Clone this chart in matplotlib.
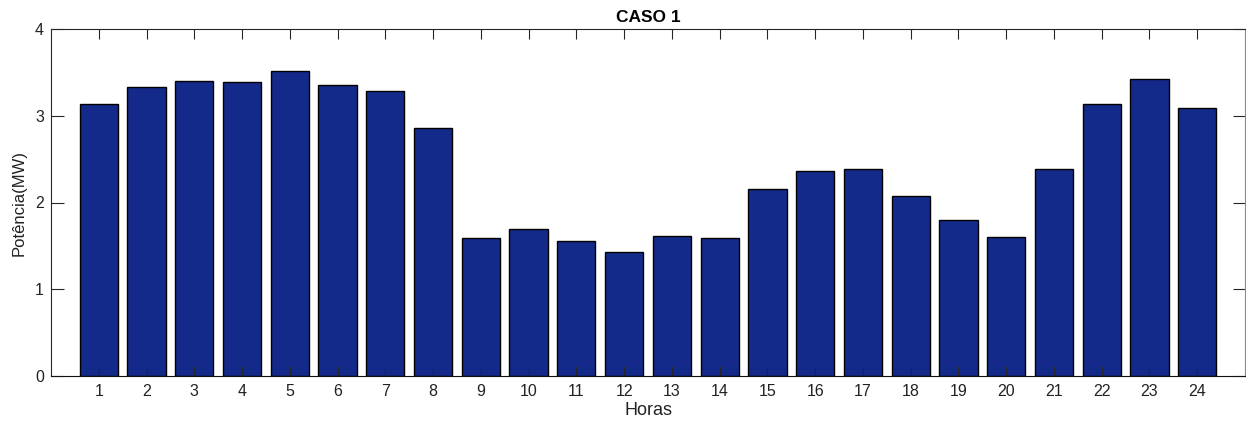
import matplotlib
matplotlib.use("Agg")
import matplotlib.pyplot as plt

plt.rcParams['font.family'] = ['Liberation Sans', 'DejaVu Sans']

horas = list(range(1, 25))
potencia = [3.13, 3.33, 3.40, 3.39, 3.52, 3.36, 3.29, 2.86,
            1.59, 1.70, 1.56, 1.43, 1.61, 1.59, 2.16, 2.36,
            2.39, 2.08, 1.80, 1.60, 2.39, 3.13, 3.42, 3.09]
yticks = [0, 1, 2, 3, 4]

fig = plt.figure(figsize=(12.46, 4.26), dpi=100)
ax = fig.add_axes([51/1246, 50/426, 1194/1246, 347/426])

ax.bar(horas, potencia, width=0.8, color='#142A8A', edgecolor='black', linewidth=1.0)

ax.set_xlim(0, 25)
ax.set_ylim(0, 4)
ax.set_xticks(horas)
ax.set_xticklabels([str(h) for h in horas])
ax.set_yticks(yticks)

axcol = '#262626'
for s in ax.spines.values():
    s.set_color(axcol)
    s.set_linewidth(0.8)
ax.spines['bottom'].set_color('#111111')
ax.spines['right'].set_color('#888888')

ax.tick_params(axis='x', direction='in', length=7.2, width=0.8, top=True, colors=axcol,
               labelsize=11.5, pad=6, labelcolor='#222222')
ax.tick_params(axis='y', direction='in', length=9, width=0.8, right=True, colors=axcol,
               labelsize=11.5, pad=5, labelcolor='#222222')

ax.set_title('CASO 1', fontsize=12.5, fontweight='bold', pad=5)
ax.set_xlabel('Horas', fontsize=13, labelpad=2, color='#222222')
ax.set_ylabel('Potência(MW)', fontsize=12, labelpad=6, color='#222222')

fig.savefig('out.png', dpi=100)
